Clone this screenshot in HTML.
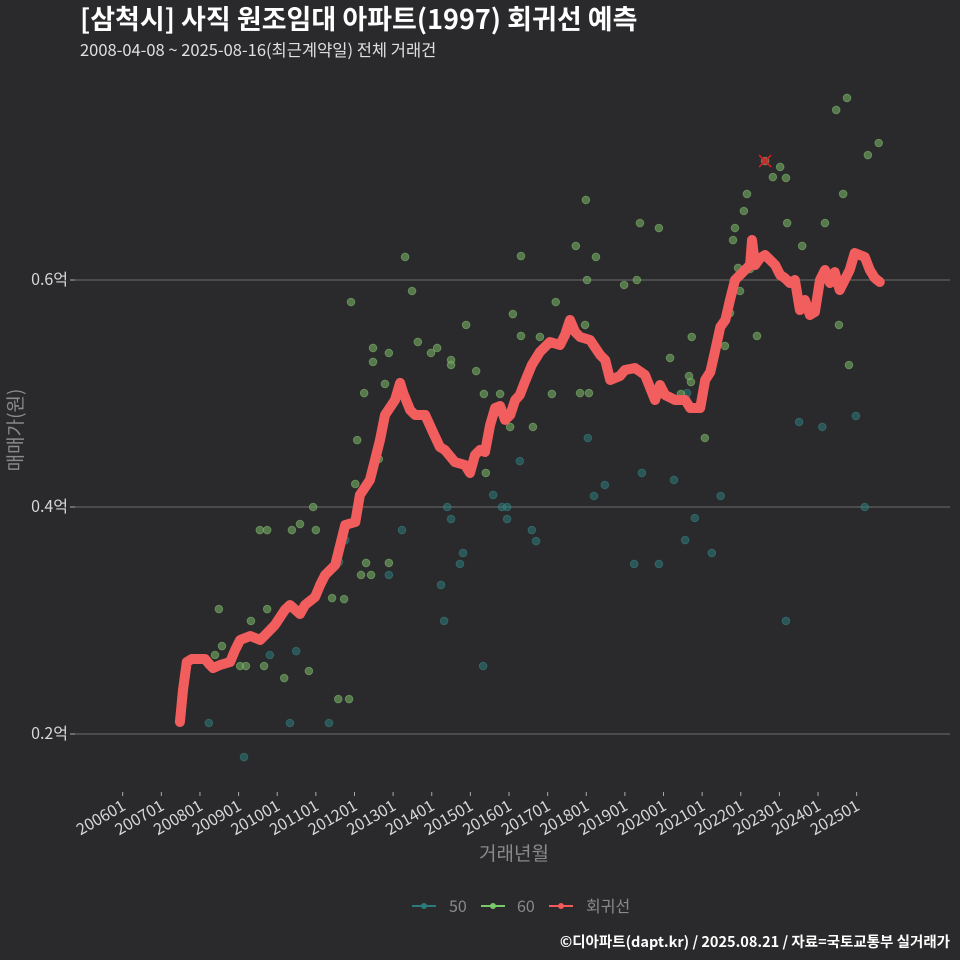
<!DOCTYPE html>
<html><head><meta charset="utf-8"><style>
body{margin:0;background:#2a292b;}
svg{display:block;font-family:"Noto Sans CJK KR","Liberation Sans",sans-serif;}
</style></head><body>
<svg id="chart" width="960" height="960" viewBox="0 0 960 960">
<rect width="960" height="960" fill="#2a292b"/>
<text x="80" y="29" fill="#ffffff" font-size="27" font-weight="bold">[삼척시] 사직 원조임대 아파트(1997) 회귀선 예측</text>
<text x="80" y="56" fill="#e0e0e0" font-size="16.5">2008-04-08 ~ 2025-08-16(최근계약일) 전체 거래건</text>
<g id="grid"></g>
<g id="yticks"></g>
<g id="xticks"></g>
<g id="pts"></g>
<g id="reg"></g>
<text x="22" y="430" fill="#8a8a8a" font-size="19" text-anchor="middle" transform="rotate(-90 22 430)">매매가(원)</text>
<text x="514" y="860" fill="#8a8a8a" font-size="19" text-anchor="middle">거래년월</text>
<g>
<g><line x1="412" y1="906" x2="436" y2="906" stroke="#2c7b7b" stroke-width="2"/><circle cx="424" cy="906" r="3" fill="#2c7b7b"/><text x="449" y="912" fill="#8a8a8a" font-size="16">50</text></g>
<g><line x1="481" y1="906" x2="505" y2="906" stroke="#7ac86a" stroke-width="2"/><circle cx="493" cy="906" r="3" fill="#7ac86a"/><text x="517" y="912" fill="#8a8a8a" font-size="16">60</text></g>
<g><line x1="549" y1="906" x2="573" y2="906" stroke="#f05a5a" stroke-width="2"/><circle cx="561" cy="906" r="3" fill="#f05a5a"/><text x="586" y="912" fill="#8a8a8a" font-size="16">회귀선</text></g>
</g>
<text x="950" y="947" fill="#ffffff" font-size="14.5" font-weight="bold" text-anchor="end">©디아파트(dapt.kr) / 2025.08.21 / 자료=국토교통부 실거래가</text>
</svg>
<script>
const yTicks=[0.2,0.4,0.6];
const xTickLabels=['200601','200701','200801','200901','201001','201101','201201','201301','201401','201501','201601','201701','201801','201901','202001','202101','202201','202301','202401','202501'];
const regYears=[2007.48,2007.56,2007.66,2007.79,2008.13,2008.26,2008.34,2008.52,2008.78,2008.91,2009.04,2009.30,2009.56,2009.69,2009.94,2010.20,2010.33,2010.59,2010.72,2010.98,2011.11,2011.24,2011.50,2011.76,2012.02,2012.14,2012.40,2012.53,2012.66,2012.79,2013.05,2013.18,2013.26,2013.44,2013.57,2013.83,2014.03,2014.21,2014.34,2014.60,2014.86,2014.99,2015.12,2015.25,2015.38,2015.51,2015.64,2015.77,2015.90,2016.03,2016.16,2016.28,2016.41,2016.59,2016.80,2017.06,2017.32,2017.45,2017.58,2017.71,2017.84,2018.10,2018.36,2018.49,2018.62,2018.87,2019.00,2019.26,2019.52,2019.78,2019.91,2020.04,2020.30,2020.56,2020.69,2020.95,2021.08,2021.21,2021.34,2021.47,2021.60,2021.72,2021.85,2022.11,2022.24,2022.29,2022.37,2022.50,2022.63,2022.89,2023.02,2023.14,2023.27,2023.40,2023.53,2023.66,2023.79,2023.92,2024.05,2024.18,2024.31,2024.43,2024.56,2024.69,2024.82,2024.95,2025.08,2025.21,2025.34,2025.47,2025.60];
const regValues=[.2106,.2388,.2634,.2661,.2661,.2608,.2581,.2608,.2634,.2740,.2828,.2863,.2828,.2872,.2960,.3093,.3137,.3057,.3137,.3207,.3313,.3401,.3489,.3841,.3868,.4106,.4238,.4414,.4590,.4811,.4943,.5093,.5004,.4855,.4811,.4811,.4661,.4529,.4502,.4396,.4370,.4300,.4458,.4502,.4485,.4722,.4872,.4890,.4767,.4811,.4943,.4987,.5101,.5251,.5366,.5454,.5427,.5515,.5648,.5542,.5498,.5471,.5339,.5295,.5119,.5154,.5207,.5225,.5163,.4943,.5075,.4987,.4943,.4943,.4872,.4872,.5119,.5189,.5383,.5586,.5648,.5824,.6000,.6088,.6132,.6352,.6132,.6194,.6220,.6132,.6044,.6018,.5974,.6000,.5736,.5824,.5692,.5718,.6000,.6088,.5974,.6070,.5912,.6000,.6088,.6238,.6220,.6203,.6088,.6018,.5982];
const t50Years=[2008.23,2009.14,2009.81,2010.33,2010.49,2011.34,2011.60,2011.76,2012.89,2013.23,2014.24,2014.32,2014.40,2014.50,2014.73,2014.81,2015.33,2015.59,2015.82,2015.95,2015.95,2016.28,2016.59,2016.70,2018.04,2018.20,2018.48,2019.24,2019.44,2019.88,2020.27,2020.56,2020.61,2020.81,2021.25,2021.48,2023.17,2023.51,2024.11,2024.98,2025.21];
const t50Values=[.2097,.1797,.2696,.2097,.2731,.2097,.3515,.3709,.3401,.3797,.3313,.2996,.4000,.3894,.3498,.3595,.2599,.4106,.4000,.4000,.3894,.4405,.3797,.3700,.4608,.4097,.4194,.3498,.4300,.3498,.4238,.3709,.5004,.3903,.3595,.4097,.2996,.4749,.4705,.4802,.4000];
const t60Years=[2008.49,2008.57,2008.39,2008.96,2009.04,2009.19,2009.32,2009.55,2009.74,2009.66,2009.74,2010.18,2010.38,2010.59,2010.82,2010.93,2011.00,2011.42,2011.58,2011.73,2011.86,2011.91,2012.02,2012.07,2012.17,2012.25,2012.30,2012.43,2012.48,2012.48,2012.63,2012.79,2012.89,2012.89,2013.31,2013.49,2013.64,2013.98,2014.14,2014.50,2014.50,2014.89,2015.15,2015.40,2015.35,2015.77,2016.03,2016.10,2016.31,2016.31,2016.62,2016.80,2017.11,2017.21,2017.73,2017.84,2017.97,2017.99,2018.02,2018.07,2018.25,2018.98,2019.31,2019.39,2019.88,2020.17,2020.45,2020.66,2020.71,2020.73,2021.07,2021.59,2021.72,2021.80,2021.85,2021.93,2021.98,2022.08,2022.16,2022.24,2022.42,2022.63,2022.83,2023.02,2023.17,2023.20,2023.59,2024.18,2024.47,2024.54,2024.65,2024.75,2024.80,2025.29,2025.57];
const t60Values=[.3101,.2775,.2696,.2775,.2599,.2599,.2996,.3797,.3797,.2599,.3101,.2493,.3797,.3850,.2555,.4000,.3797,.3198,.2308,.3189,.2308,.5806,.4203,.4590,.3401,.5004,.3507,.3401,.5401,.5278,.4423,.5084,.5357,.3507,.6203,.5903,.5454,.5357,.5401,.5295,.5251,.5604,.5198,.4300,.4996,.4996,.4705,.5700,.6211,.5507,.4705,.5498,.4996,.5806,.6300,.5004,.5604,.6705,.6000,.5004,.6203,.5956,.6000,.6502,.6458,.5313,.4996,.5154,.5101,.5498,.4608,.5419,.5709,.6352,.6458,.6106,.5903,.6608,.6758,.6097,.5507,.7048,.6907,.6996,.6899,.6502,.6300,.6502,.7498,.5604,.6758,.7604,.5251,.7101,.7207];
const maxYear=[2022.63];
const maxValue=[.7048];

const NS='http://www.w3.org/2000/svg';
function xs(y){return 122.7+(y-2006)*38.63;}
function ys(v){return 734-(v-0.2)*1135;}
function mk(tag,attrs,parent){const e=document.createElementNS(NS,tag);for(const k in attrs)e.setAttribute(k,attrs[k]);parent.appendChild(e);return e;}
const grid=document.getElementById('grid'),yt=document.getElementById('yticks'),xt=document.getElementById('xticks'),pts=document.getElementById('pts'),reg=document.getElementById('reg');
yTicks.forEach(v=>{
  const l=mk('line',{x1:75,x2:950,y1:ys(v),y2:ys(v),stroke:'#6e6e6e','stroke-width':1},grid);
  
  
  const tk=mk('line',{x1:70,x2:75,y1:ys(v),y2:ys(v),stroke:'#aaa'},yt);
  
  
  const t=mk('text',{x:68,y:ys(v)+5,fill:'#d8d8d8','font-size':16,'text-anchor':'end'},yt);
  t.textContent=v.toFixed(1)+'억';
  
  
});
xTickLabels.forEach((lab,i)=>{
  const yr=parseInt(lab.slice(0,4));
  const x=xs(yr);
  const tk=mk('line',{x1:x,x2:x,y1:792,y2:796,stroke:'#aaa'},xt);
  
  
  const t=mk('text',{x:x+4,y:809,fill:'#d8d8d8','font-size':16,'text-anchor':'end',transform:'rotate(-30 '+(x+4)+' 809)'},xt);
  t.textContent=lab;
  
  
});
t50Years.forEach((y,i)=>{
  const c=mk('circle',{cx:xs(y),cy:ys(t50Values[i]),r:3.8,fill:'#2c7b7b','fill-opacity':0.55,stroke:'#3a8a8a','stroke-opacity':0.5,'stroke-width':1},pts);
  
  
});
t60Years.forEach((y,i)=>{
  const c=mk('circle',{cx:xs(y),cy:ys(t60Values[i]),r:3.8,fill:'#6a9a5a','fill-opacity':0.7,stroke:'#8ac87a','stroke-opacity':0.5,'stroke-width':1},pts);
  
  
});
const d=regYears.map((y,i)=>(i?'L':'M')+xs(y).toFixed(1)+' '+ys(regValues[i]).toFixed(1)).join(' ');
const p=mk('path',{d:d,fill:'none',stroke:'#f25e5e','stroke-width':10,'stroke-linejoin':'round','stroke-linecap':'round'},reg);


maxYear.forEach((y,i)=>{
  const cx=xs(y),cy=ys(maxValue[i]);
  const g=mk('g',{},reg);
  
  
  mk('line',{x1:cx-6,y1:cy-6,x2:cx+6,y2:cy+6,stroke:'#e02020','stroke-width':1.5},g);
  mk('line',{x1:cx-6,y1:cy+6,x2:cx+6,y2:cy-6,stroke:'#e02020','stroke-width':1.5},g);
  mk('circle',{cx:cx,cy:cy,r:3.5,fill:'#c03030','fill-opacity':0.8},g);
});
</script>
</body></html>
